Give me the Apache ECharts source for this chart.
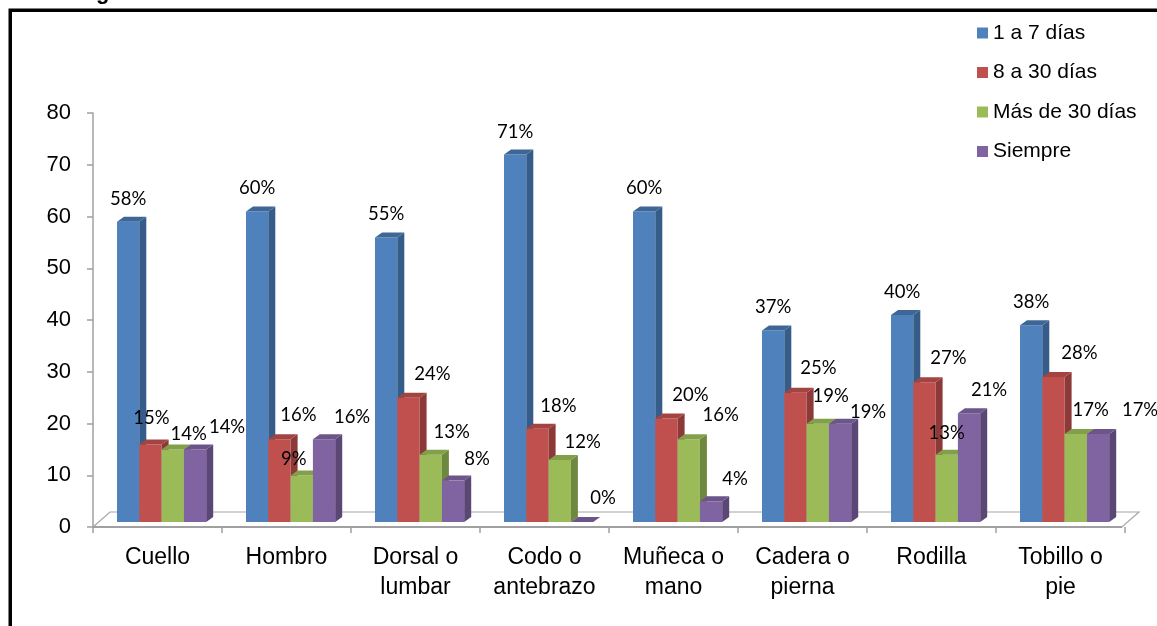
<!DOCTYPE html>
<html>
<head>
<meta charset="utf-8">
<script src="https://cdn.jsdelivr.net/npm/echarts@6/dist/echarts.min.js"></script>
<style>
html,body{margin:0;padding:0;background:#fff;}
#chart{width:1157px;height:626px;}
</style>
</head>
<body>
<div id="chart"></div>
<script>
// ---- data ----
const categories = ['Cuello', 'Hombro', 'Dorsal o\nlumbar', 'Codo o\nantebrazo', 'Muñeca o\nmano', 'Cadera o\npierna', 'Rodilla', 'Tobillo o\npie'];
const seriesNames = ['1 a 7 días', '8 a 30 días', 'Más de 30 días', 'Siempre'];
const dias1a7 = [58, 60, 55, 71, 60, 37, 40, 38];
const dias8a30 = [15, 16, 24, 18, 20, 25, 27, 28];
const mas30dias = [14, 9, 13, 12, 16, 19, 13, 17];
const siempre = [14, 16, 8, 0, 4, 19, 21, 17];
const yMin = 0, yMax = 80, yStep = 10;

// ---- layout / style (not data) ----
const labelNudge = [
  [[0,-23],[0,-23],[0,-23],[0,-23],[0,-23],[0,-23],[0,-23],[0,-23]],
  [[1,-26],[19,-24],[24,-24],[21,-23],[24,-23],[23,-25],[24,-24],[26,-24]],
  [[16,-16],[-8,-16],[21,-23],[23,-18],[32,-24],[13,-28],[0,-22],[15,-24]],
  [[32,-23],[28,-22],[24,-22],[21,-24],[24,-22],[28,-12],[20,-23],[42,-24]]
];
const faceColors = [
  {front:'#4F81BD', side:'#365C89', top:'#3E6797'},
  {front:'#C0504D', side:'#8C3937', top:'#A44442'},
  {front:'#9BBB59', side:'#6F883F', top:'#82A04A'},
  {front:'#8064A2', side:'#5B4775', top:'#6B5589'}
];
const BAR_W = 22.3, START = 24, DX = 7, DY = 5, FRONT_SHIFT = 5;
const FLOOR_DX = 17, FLOOR_DY = 15;

const chart = echarts.init(document.getElementById('chart'), null, {renderer: 'canvas'});

function makeBarSeries(si, values) {
  return {
    name: seriesNames[si],
    type: 'custom',
    itemStyle: {color: faceColors[si].front},
    data: values.map((v, i) => [i, v]),
    renderItem: function (params, api) {
      const ci = api.value(0), v = api.value(1);
      const base = api.coord([ci, 0]);
      const top = api.coord([ci, v]);
      const band = api.size([1, 0])[0];
      const x0 = base[0] - band / 2 + START * band / 129 + si * BAR_W;
      const x1 = x0 + BAR_W;
      const yb = base[1] - FRONT_SHIFT;
      const yt = top[1] - FRONT_SHIFT;
      const c = faceColors[si];
      const nd = labelNudge[si][ci];
      return {
        type: 'group',
        children: [
          {type: 'rect', shape: {x: x0, y: yt, width: BAR_W, height: Math.max(0, yb - yt)}, style: {fill: c.front}},
          {type: 'polygon', shape: {points: [[x1, yt], [x1 + DX, yt - DY], [x1 + DX, yb - DY], [x1, yb]]}, style: {fill: c.side}},
          {type: 'polygon', shape: {points: [[x0, yt], [x0 + DX, yt - DY], [x1 + DX, yt - DY], [x1, yt]]}, style: {fill: c.top}},
          {type: 'text', z2: 100, style: {
            text: v + '%', x: (x0 + x1) / 2 + nd[0], y: yt + nd[1],
            align: 'center', verticalAlign: 'middle',
            textAlign: 'center', textVerticalAlign: 'middle',
            fill: '#000', font: '18.5px Lato'
          }}
        ]
      };
    }
  };
}

const floorSeries = {
  name: 'floor',
  type: 'custom',
  silent: true,
  z: 1,
  data: [[0, 0]],
  renderItem: function (params, api) {
    const band = api.size([1, 0])[0];
    const L = api.coord([0, 0])[0] - band / 2;
    const R = api.coord([categories.length - 1, 0])[0] + band / 2 - 3;
    const y = api.coord([0, 0])[1];
    return {
      type: 'group',
      children: [
        {type: 'polygon', shape: {points: [[L, y], [R, y], [R + FLOOR_DX, y - FLOOR_DY], [L + FLOOR_DX, y - FLOOR_DY]]},
         style: {fill: '#fff', stroke: '#A6A6A6', lineWidth: 1.2}},
        {type: 'line', shape: {x1: L, y1: y, x2: R, y2: y}, style: {stroke: '#A0A0A0', lineWidth: 2}}
      ]
    };
  }
};

const option = {
  animation: false,
  color: faceColors.map(c => c.front),
  grid: {left: 93, right: 32, top: 113, bottom: 99, containLabel: false},
  legend: {
    data: seriesNames,
    orient: 'vertical',
    left: 972,
    top: 17,
    icon: 'rect',
    itemWidth: 11,
    itemHeight: 11,
    itemGap: 17.5,
    textStyle: {fontFamily: 'Arial, Liberation Sans', fontSize: 21, color: '#000', lineHeight: 22}
  },
  xAxis: {
    type: 'category',
    data: categories,
    boundaryGap: true,
    axisLine: {show: false},
    axisTick: {show: true, interval: 0, length: 6, lineStyle: {color: '#A0A0A0', width: 1.5}},
    axisLabel: {interval: 0, margin: 16, color: '#000', fontFamily: 'Arial, Liberation Sans', fontSize: 23, lineHeight: 30}
  },
  yAxis: {
    type: 'value',
    min: yMin, max: yMax, interval: yStep,
    splitLine: {show: false},
    axisLine: {show: true, lineStyle: {color: '#A0A0A0', width: 1.5}},
    axisTick: {show: true, length: 6, lineStyle: {color: '#A0A0A0', width: 1.5}},
    axisLabel: {margin: 22, color: '#000', fontFamily: 'Arial, Liberation Sans', fontSize: 22}
  },
  graphic: [
    {type: 'polyline', z: 100, shape: {points: [[10.25, 626], [10.25, 10.25], [1157, 10.25]]}, style: {stroke: '#000', lineWidth: 3.5, fill: null}},
    {type: 'text', z: 100, style: {text: 'g', x: 96, y: -18, font: 'bold 22px Arial', fill: '#000'}}
  ],
  series: [
    floorSeries,
    makeBarSeries(0, dias1a7),
    makeBarSeries(1, dias8a30),
    makeBarSeries(2, mas30dias),
    makeBarSeries(3, siempre)
  ]
};
chart.setOption(option);
</script>
</body>
</html>
